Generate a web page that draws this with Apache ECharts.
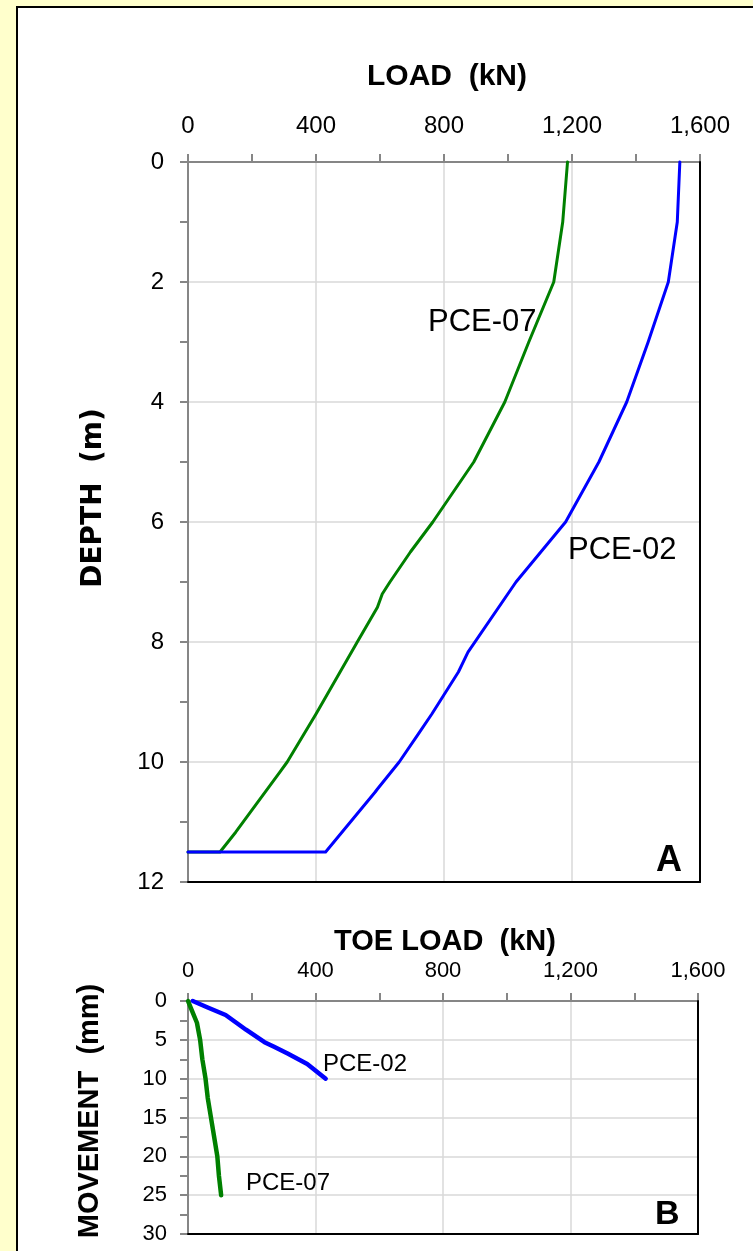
<!DOCTYPE html>
<html>
<head>
<meta charset="utf-8">
<script src="https://cdn.jsdelivr.net/npm/echarts@6/dist/echarts.min.js"></script>
<style>
  html, body { margin: 0; padding: 0; background: #FFFFCC; overflow: hidden; }
  #panel { position: absolute; left: 16px; top: 6px; width: 800px; height: 1300px;
           background: #ffffff; border: 2px solid #000; }
  #chart { position: absolute; left: 0; top: 0; width: 753px; height: 1251px; }
</style>
</head>
<body>
<div id="panel"></div>
<div id="chart"></div>
<script>
// Load distribution along the pile (panel A)
const depthPCE07 = [0, 1, 2, 3, 4, 5, 6, 6.5, 7, 7.2, 7.42, 8, 9.2, 10, 10.17, 11.17, 11.5, 11.5];
const loadPCE07  = [1186, 1171, 1143, 1065, 990, 893, 765, 695, 631, 607, 592, 529, 400, 310, 287, 149, 100, 0];
const depthPCE02 = [0, 1, 2, 3, 4, 5, 6, 7, 8.17, 8.5, 9.2, 9.53, 10, 10.45, 10.5, 11.5, 11.5];
const loadPCE02  = [1537, 1529, 1501, 1438, 1371, 1284, 1180, 1025, 875, 845, 762, 720, 660, 592, 585, 430, 0];

// Toe load versus toe movement (panel B)
const toeLoadPCE02 = [15, 60, 118, 182, 240, 270, 314, 374, 432];
const movePCE02    = [0, 0.8, 1.8, 3.7, 5.3, 5.9, 6.8, 8.1, 10];
const toeLoadPCE07 = [0, 12, 28, 38, 45, 55, 62, 72, 82, 92, 97, 104];
const movePCE07    = [0, 1.2, 2.8, 5, 7.5, 10, 12.5, 15, 17.5, 20, 22.5, 25];

const loadTicks = { min: 0, max: 1600, interval: 400 };
const depthTicks = { min: 0, max: 12, interval: 2 };
const moveTicks = { min: 0, max: 30, interval: 5 };

const GREEN = '#008000';
const BLUE = '#0000FF';
const AXIS_GREY = '#868686';
const GRID_GREY = '#d9d9d9';
const ARIAL = '"Liberation Sans", Arial, sans-serif';

const zip = (xs, ys) => xs.map((x, i) => [x, ys[i]]);
const thousands = v => Number(v).toLocaleString('en-US');

function xAxisCfg(gridIndex, ticks, fontSize, margin) {
  return {
    type: 'value', gridIndex, position: 'top',
    min: ticks.min, max: ticks.max, interval: ticks.interval,
    axisLine: { show: true, lineStyle: { color: AXIS_GREY, width: 2 } },
    axisTick: { show: true, inside: false, length: 8, lineStyle: { color: AXIS_GREY, width: 2 } },
    minorTick: { show: true, splitNumber: 2, length: 8, lineStyle: { color: AXIS_GREY, width: 2 } },
    splitLine: { show: true, lineStyle: { color: GRID_GREY, width: 1.5 } },
    axisLabel: { color: '#000', fontFamily: ARIAL, fontSize, margin, formatter: thousands }
  };
}
function yAxisCfg(gridIndex, ticks, fontSize, margin) {
  return {
    type: 'value', gridIndex, inverse: true,
    min: ticks.min, max: ticks.max, interval: ticks.interval,
    axisLine: { show: true, lineStyle: { color: AXIS_GREY, width: 2 } },
    axisTick: { show: true, inside: false, length: 8, lineStyle: { color: AXIS_GREY, width: 2 } },
    minorTick: { show: true, splitNumber: 2, length: 8, lineStyle: { color: AXIS_GREY, width: 2 } },
    splitLine: { show: true, lineStyle: { color: GRID_GREY, width: 1.5 } },
    axisLabel: { color: '#000', fontFamily: ARIAL, fontSize, margin }
  };
}
// Plain black axis used to close the plot frame on the bottom / right side
function frameAxis(gridIndex, ticks, position, inverse) {
  return {
    type: 'value', gridIndex, position, inverse: !!inverse,
    min: ticks.min, max: ticks.max, interval: ticks.interval, z: 5,
    axisLine: { show: true, onZero: false, lineStyle: { color: '#000', width: 2 } },
    axisTick: { show: false }, axisLabel: { show: false }, splitLine: { show: false }
  };
}
function lineSeries(name, data, color, width, idx) {
  return {
    name, type: 'line', xAxisIndex: idx, yAxisIndex: idx, data,
    showSymbol: false, symbol: 'none', smooth: false, clip: false,
    lineStyle: { color, width, join: 'round', cap: 'round' }, z: 3
  };
}
function label(text, x, y, font, extra) {
  const el = {
    type: 'text', x, y, z: 10,
    style: { text, font, fill: '#000', textAlign: 'left', textVerticalAlign: 'middle' }
  };
  if (extra) {
    if (extra.rotation !== undefined) el.rotation = extra.rotation;
    if (extra.align) el.style.textAlign = extra.align;
  }
  return el;
}

const chart = echarts.init(document.getElementById('chart'), null, { renderer: 'canvas' });
chart.setOption({
  backgroundColor: 'transparent',
  animation: false,
  grid: [
    { left: 188, top: 162, width: 512, height: 720, show: false },
    { left: 188, top: 1001, width: 510, height: 233, show: false }
  ],
  xAxis: [
    xAxisCfg(0, loadTicks, 24, 24),
    xAxisCfg(1, loadTicks, 22, 19),
    frameAxis(0, loadTicks, 'bottom'),
    frameAxis(1, loadTicks, 'bottom')
  ],
  yAxis: [
    yAxisCfg(0, depthTicks, 24, 24),
    yAxisCfg(1, moveTicks, 22, 21),
    frameAxis(0, depthTicks, 'right', true),
    frameAxis(1, moveTicks, 'right', true)
  ],
  series: [
    lineSeries('PCE-07', zip(loadPCE07, depthPCE07), GREEN, 3, 0),
    lineSeries('PCE-02', zip(loadPCE02, depthPCE02), BLUE, 3, 0),
    lineSeries('PCE-02', zip(toeLoadPCE02, movePCE02), BLUE, 4.5, 1),
    lineSeries('PCE-07', zip(toeLoadPCE07, movePCE07), GREEN, 4.5, 1)
  ],
  graphic: [
    label('LOAD  (kN)', 447, 77, 'bold 30px ' + ARIAL, { align: 'center' }),
    label('TOE LOAD  (kN)', 445, 942, 'bold 29px ' + ARIAL, { align: 'center' }),
    label('DEPTH  (m)', 94, 498, 'bold 28px "DejaVu Sans", sans-serif', { align: 'center', rotation: Math.PI / 2 }),
    label('MOVEMENT  (mm)', 90, 1111, 'bold 29px ' + ARIAL, { align: 'center', rotation: Math.PI / 2 }),
    label('PCE-07', 428, 322, '31px ' + ARIAL),
    label('PCE-02', 568, 550, '31px ' + ARIAL),
    label('PCE-02', 323, 1064, '24px ' + ARIAL),
    label('PCE-07', 246, 1183, '24px ' + ARIAL),
    label('A', 656, 861, 'bold 36px ' + ARIAL),
    label('B', 655, 1215, 'bold 34px ' + ARIAL)
  ]
});
</script>
</body>
</html>
